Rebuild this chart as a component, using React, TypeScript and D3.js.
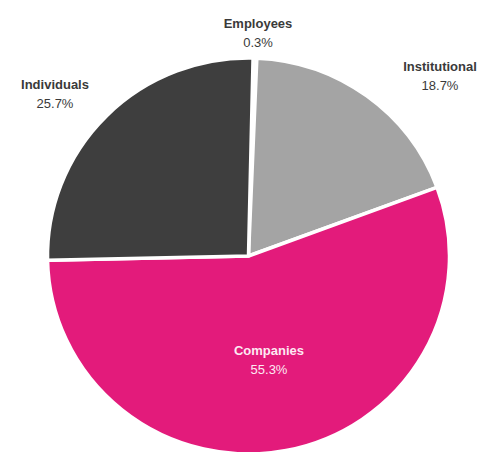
import React from "react";
import * as d3 from "d3";

const categories = ["Employees", "Institutional", "Companies", "Individuals"];
const shares = [0.3, 18.7, 55.3, 25.7];
const percentLabels = ["0.3%", "18.7%", "55.3%", "25.7%"];
const colors = ["#cfcfcf", "#a4a4a4", "#e31b7b", "#3e3e3e"];
const labelFill = ["#3a3a3a", "#3a3a3a", "#fde9f2", "#3a3a3a"];
// label anchor positions (layout), one per category
const labelPos = [
  [258, 28],
  [440, 71],
  [269, 355],
  [55, 89],
];

const W = 483;
const H = 452;
const cx = 248.5;
const cy = 256;
const rx = 201;
const ry = 198;
const startOffset = (1.3 * Math.PI) / 180;

export default function App() {
  const pie = d3
    .pie<number>()
    .sort(null)
    .value((d) => d)
    .startAngle(startOffset)
    .endAngle(startOffset + 2 * Math.PI);
  const arcs = pie(shares);
  const arc = d3.arc<d3.PieArcDatum<number>>().innerRadius(0).outerRadius(ry);

  return (
    <svg
      width={W}
      height={H}
      style={{ position: "absolute", left: 0, top: 0, background: "#fff" }}
    >
      <g transform={`translate(${cx},${cy}) scale(${rx / ry},1)`}>
        {arcs.map((a, i) => (
          <path
            key={categories[i]}
            d={arc(a) || ""}
            fill={colors[i]}
            stroke="#ffffff"
            strokeWidth={3.5}
            strokeLinejoin="round"
            vectorEffect="non-scaling-stroke"
          />
        ))}
      </g>
      {categories.map((c, i) => (
        <text
          key={c}
          x={labelPos[i][0]}
          y={labelPos[i][1]}
          textAnchor="middle"
          fontFamily="'Liberation Sans', Arial, sans-serif"
          fontSize={13}
          fill={labelFill[i]}
        >
          <tspan fontWeight="bold">{c}</tspan>
          <tspan x={labelPos[i][0]} dy={18.5}>
            {percentLabels[i]}
          </tspan>
        </text>
      ))}
    </svg>
  );
}
